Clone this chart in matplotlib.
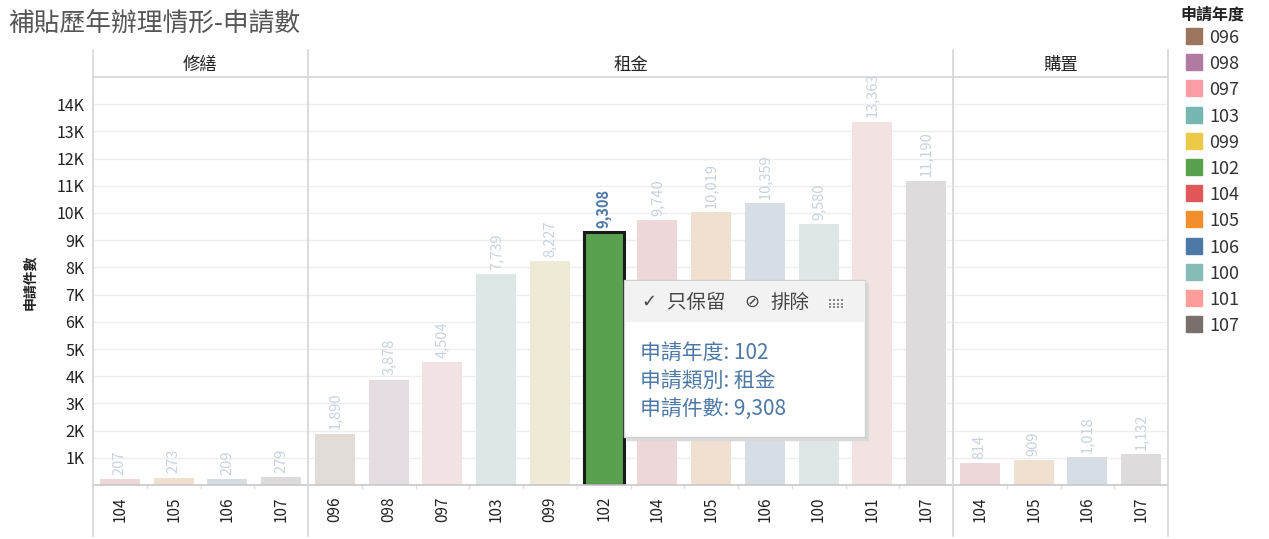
import matplotlib
matplotlib.use("Agg")
import matplotlib.pyplot as plt
from matplotlib.patches import Rectangle
from matplotlib.lines import Line2D
from matplotlib.colors import to_rgb

plt.rcParams['font.family'] = ['Noto Sans CJK TC', 'DejaVu Sans']

# ---- data ----
groups = ["修繕", "租金", "購置"]
group_years = [
    ["104", "105", "106", "107"],
    ["096", "098", "097", "103", "099", "102", "104", "105", "106", "100", "101", "107"],
    ["104", "105", "106", "107"],
]
group_values = [
    [207, 273, 209, 279],
    [1890, 3878, 4504, 7739, 8227, 9308, 9740, 10019, 10359, 9580, 13363, 11190],
    [814, 909, 1018, 1132],
]
legend_years = ["096", "098", "097", "103", "099", "102", "104", "105", "106", "100", "101", "107"]
legend_colors = ["#9C755F", "#B07AA1", "#FF9DA7", "#76B7B2", "#EDC948", "#59A14F",
                 "#E15759", "#F28E2B", "#4E79A7", "#86BCB6", "#FF9D9A", "#79706E"]
selected = ("租金", "102")
y_ticks = [1000, 2000, 3000, 4000, 5000, 6000, 7000, 8000, 9000, 10000, 11000, 12000, 13000, 14000]
y_tick_labels = ["1K", "2K", "3K", "4K", "5K", "6K", "7K", "8K", "9K", "10K", "11K", "12K", "13K", "14K"]

color_of = dict(zip(legend_years, legend_colors))

def fade(c, a=0.16, base=0.94):
    r, g, b = to_rgb(c)
    return tuple(base + a * (v - base) for v in (r, g, b))

W, H = 1269, 539
fig = plt.figure(figsize=(W / 100, H / 100), dpi=100)

def fx(px):
    return px / W

def fy(py):
    return 1 - py / H

left_px, right_px, top_px, bottom_px = 93, 1168, 77, 485
ax = fig.add_axes([fx(left_px), fy(bottom_px), fx(right_px) - fx(left_px), fy(top_px) - fy(bottom_px)])

xs, heights, cols, labels, edge = [], [], [], [], []
pos = 0
bounds = []
for g, yrs, vals in zip(groups, group_years, group_values):
    start = pos
    for yr, v in zip(yrs, vals):
        xs.append(pos)
        heights.append(v)
        labels.append(yr)
        is_sel = (g, yr) == selected
        cols.append(color_of[yr] if is_sel else fade(color_of[yr]))
        edge.append(is_sel)
        pos += 1
    bounds.append((start - 0.5, pos - 0.5))

bars = ax.bar(xs, heights, width=0.74, color=cols, zorder=2)
for b, e in zip(bars, edge):
    if e:
        b.set_edgecolor("#1a1a1a")
        b.set_linewidth(2.2)

for x, v, e in zip(xs, heights, edge):
    ax.annotate(f"{v:,}", (x, v), xytext=(0, 3), textcoords="offset points",
                rotation=90, ha="center", va="bottom", fontsize=10.5,
                color="#4E79A7" if e else "#C8D2DE",
                fontweight="bold" if e else "normal", zorder=3)

ax.set_xlim(-0.5, pos - 0.5)
ax.set_ylim(0, 15000)
ax.set_yticks(y_ticks)
ax.set_yticklabels(y_tick_labels, fontsize=11.5, color="#222222")
ax.set_xticks(xs)
ax.set_xticklabels(labels, rotation=90, fontsize=11, color="#222222")
ax.tick_params(axis="both", length=0, pad=6)
ax.tick_params(axis="x", pad=8)
ax.grid(axis="y", color="#EEEEEE", linewidth=1, zorder=0)
ax.set_axisbelow(True)
for s in ["top", "right", "left"]:
    ax.spines[s].set_visible(False)
ax.spines["bottom"].set_color("#C8C8C8")
ax.spines["bottom"].set_linewidth(1.2)

# small ticks between categories
for i in range(pos - 1):
    x = i + 0.5
    if any(abs(x - b[1]) < 1e-6 for b in bounds):
        continue
    ax.plot([x, x], [0, -120], color="#E0E0E0", lw=1, clip_on=False)

# panel separators and headers
sep_px = [left_px]
for (a, b) in bounds:
    sep_px.append(left_px + (b + 0.5) * (right_px - left_px) / pos)
for sp in sep_px:
    fig.add_artist(Line2D([fx(sp), fx(sp)], [fy(50), fy(536)], color="#D6D6D6", lw=1.2))
fig.add_artist(Line2D([fx(left_px), fx(right_px)], [fy(77), fy(77)], color="#D6D6D6", lw=1.2))
for g, (a, b) in zip(groups, bounds):
    cx = left_px + ((a + b) / 2 + 0.5) * (right_px - left_px) / pos
    fig.text(fx(cx), fy(65), g, ha="center", va="center", fontsize=12.5, color="#222222")

# title and y label
fig.text(fx(8), fy(24), "補貼歷年辦理情形-申請數", ha="left", va="center", fontsize=18.5, color="#555555")
fig.text(fx(30), fy(282), "申請件數", rotation=90, ha="center", va="center", fontsize=10,
         fontweight="bold", color="#222222")

# legend
fig.text(fx(1180), fy(15), "申請年度", ha="left", va="center", fontsize=11.5, fontweight="bold", color="#222222")
for i, (yr, c) in enumerate(zip(legend_years, legend_colors)):
    cy = 36 + i * 26.2
    fig.add_artist(Rectangle((fx(1186), fy(cy + 8)), fx(16), 16 / H, color=c, transform=fig.transFigure))
    fig.text(fx(1209), fy(cy + 2), yr, ha="left", va="center", fontsize=13, color="#333333")

# tooltip
tx0, ty0, tx1, ty1 = 624, 280, 865, 437
fig.add_artist(Rectangle((fx(tx0 + 3), fy(ty1 + 3)), fx(tx1 - tx0), (ty1 - ty0) / H,
                         transform=fig.transFigure, color="#D9D9D9", zorder=9))
fig.add_artist(Rectangle((fx(tx0), fy(ty1)), fx(tx1 - tx0), (ty1 - ty0) / H,
                         transform=fig.transFigure, facecolor="white", edgecolor="#D0D0D0", lw=1, zorder=10))
fig.add_artist(Rectangle((fx(tx0 + 1), fy(322)), fx(tx1 - tx0 - 2), (322 - ty0 - 1) / H,
                         transform=fig.transFigure, facecolor="#F2F2F2", edgecolor="none", zorder=11))
fig.text(fx(641), fy(302), "✓", ha="left", va="center", fontsize=13, color="#444444", zorder=12,
         family=["DejaVu Sans"])
fig.text(fx(667), fy(302), "只保留", ha="left", va="center", fontsize=14, color="#444444", zorder=12)
fig.text(fx(744), fy(302), "⊘", ha="left", va="center", fontsize=13, color="#444444", zorder=12,
         family=["DejaVu Sans"])
fig.text(fx(770), fy(302), "排除", ha="left", va="center", fontsize=14, color="#444444", zorder=12)
for i in range(4):
    for j in range(3):
        fig.add_artist(Rectangle((fx(829 + i * 4), fy(299 + j * 3.5 + 2)), fx(2), 2 / H,
                                 transform=fig.transFigure, color="#888888", lw=0, zorder=12))
tip_lines = ["申請年度: 102", "申請類別: 租金", "申請件數: 9,308"]
for i, t in enumerate(tip_lines):
    fig.text(fx(640), fy(354 + i * 27.5), t, ha="left", va="center", fontsize=15,
             color="#4E79A7", zorder=12)

fig.savefig("out.png", dpi=100)
